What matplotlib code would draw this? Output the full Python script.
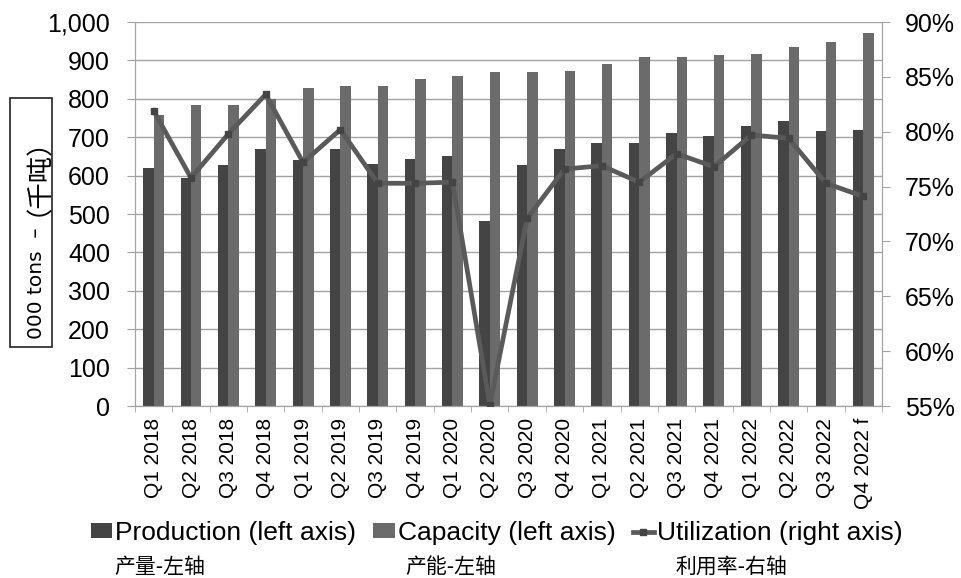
import matplotlib
matplotlib.use("Agg")
import matplotlib.pyplot as plt
from matplotlib.ticker import FuncFormatter, FixedLocator, NullFormatter
from matplotlib.patches import Rectangle
import numpy as np

plt.rcParams['font.family'] = ['Liberation Sans', 'Noto Sans CJK SC']

quarters = ["Q1 2018", "Q2 2018", "Q3 2018", "Q4 2018",
            "Q1 2019", "Q2 2019", "Q3 2019", "Q4 2019",
            "Q1 2020", "Q2 2020", "Q3 2020", "Q4 2020",
            "Q1 2021", "Q2 2021", "Q3 2021", "Q4 2021",
            "Q1 2022", "Q2 2022", "Q3 2022", "Q4 2022 f"]

production = [619, 595, 628, 668, 640, 668, 629, 644, 650, 482,
              628, 668, 686, 686, 711, 704, 730, 743, 715, 720]

capacity = [757, 785, 785, 800, 827, 833, 833, 852, 859, 869,
            869, 872, 891, 908, 910, 915, 917, 936, 948, 971]

utilization = [81.9, 75.8, 79.8, 83.4, 77.2, 80.2, 75.3, 75.3, 75.4, 55.1,
               72.1, 76.6, 76.9, 75.4, 78.0, 76.8, 79.7, 79.4, 75.3, 74.1]

legend_labels = ["Production (left axis)", "Capacity (left axis)", "Utilization (right axis)"]
legend_labels_cn = ["产量-左轴", "产能-左轴", "利用率-右轴"]
ylabel_en = "000 tons  –"
ylabel_cn = "（千吨）"

c_prod = "#444444"
c_cap = "#6b6b6b"
c_line = "#5a5a5a"
c_grid = "#a3a3a3"

W, H = 962, 578
fig = plt.figure(figsize=(W/100, H/100), dpi=100)
ax = fig.add_axes([135/W, 1 - 406/H, (882 - 135)/W, (406 - 22)/H])

x = np.arange(len(quarters))
w = 0.28
b1 = ax.bar(x - w/2, production, w, color=c_prod, zorder=2)
b2 = ax.bar(x + w/2, capacity, w, color=c_cap, zorder=2)

ax.set_xlim(-0.5, len(quarters) - 0.5)
ax.set_ylim(0, 1000)
ax.set_yticks(np.arange(0, 1001, 100))
ax.yaxis.set_major_formatter(FuncFormatter(lambda v, p: f"{int(v):,}"))
ax.grid(axis='y', color=c_grid, lw=1.0, zorder=0)
ax.set_axisbelow(True)

# category labels at the centres, tick marks on the boundaries
ax.xaxis.set_major_locator(FixedLocator(x))
ax.set_xticklabels(quarters, rotation=90, fontsize=15)
ax.tick_params(axis='x', which='major', length=0, pad=8.5)
ax.xaxis.set_minor_locator(FixedLocator(np.arange(-0.5, len(quarters), 1.0)))
ax.xaxis.set_minor_formatter(NullFormatter())
ax.tick_params(axis='x', which='minor', length=4.5, color=c_grid, direction='out')
ax.tick_params(axis='y', labelsize=18, length=6, color=c_grid, pad=12)

for s in ['left', 'right', 'bottom']:
    ax.spines[s].set_color(c_grid)
ax.spines['top'].set_visible(False)

ax2 = ax.twinx()
ln, = ax2.plot(x, utilization, color=c_line, lw=3.4, marker='s', markersize=5,
               markerfacecolor="#444444", markeredgecolor="#444444", zorder=3)
ax2.set_ylim(55, 90)
ax2.set_yticks(np.arange(55, 91, 5))
ax2.yaxis.set_major_formatter(FuncFormatter(lambda v, p: f"{int(round(v))}%"))
ax2.tick_params(axis='y', labelsize=18, length=6, color=c_grid, pad=10.5)
for s in ['left', 'right', 'bottom']:
    ax2.spines[s].set_color(c_grid)
ax2.spines['top'].set_visible(False)

# boxed, rotated axis title
fig.add_artist(Rectangle((10/W, 1 - 347/H), 42/W, (347 - 98)/H,
                         transform=fig.transFigure, facecolor='white',
                         edgecolor='#222222', lw=1.2))
fig.text(36/W, 1 - 283/H, ylabel_en, rotation=90, ha='center', va='center',
         fontsize=14.5, family=['DejaVu Sans'])
fig.text(25/W, 1 - 163/H, ylabel_cn, rotation=90, ha='center', va='center',
         fontsize=19, family=['Noto Sans CJK SC'])

leg = fig.legend([b1, b2, ln], legend_labels, loc='center left',
                 bbox_to_anchor=(91/W, 1 - 533/H), ncol=3, frameon=False,
                 fontsize=19, handlelength=0.8, handleheight=0.5, handletextpad=0.12,
                 columnspacing=0.65, borderpad=0, borderaxespad=0)

for xp, t in zip([114, 405, 675], legend_labels_cn):
    fig.text(xp/W, 1 - 567/H, t, fontsize=15, ha='left', va='center',
             family=['Noto Sans CJK SC', 'Liberation Sans'])

fig.savefig("out.png", dpi=100)
